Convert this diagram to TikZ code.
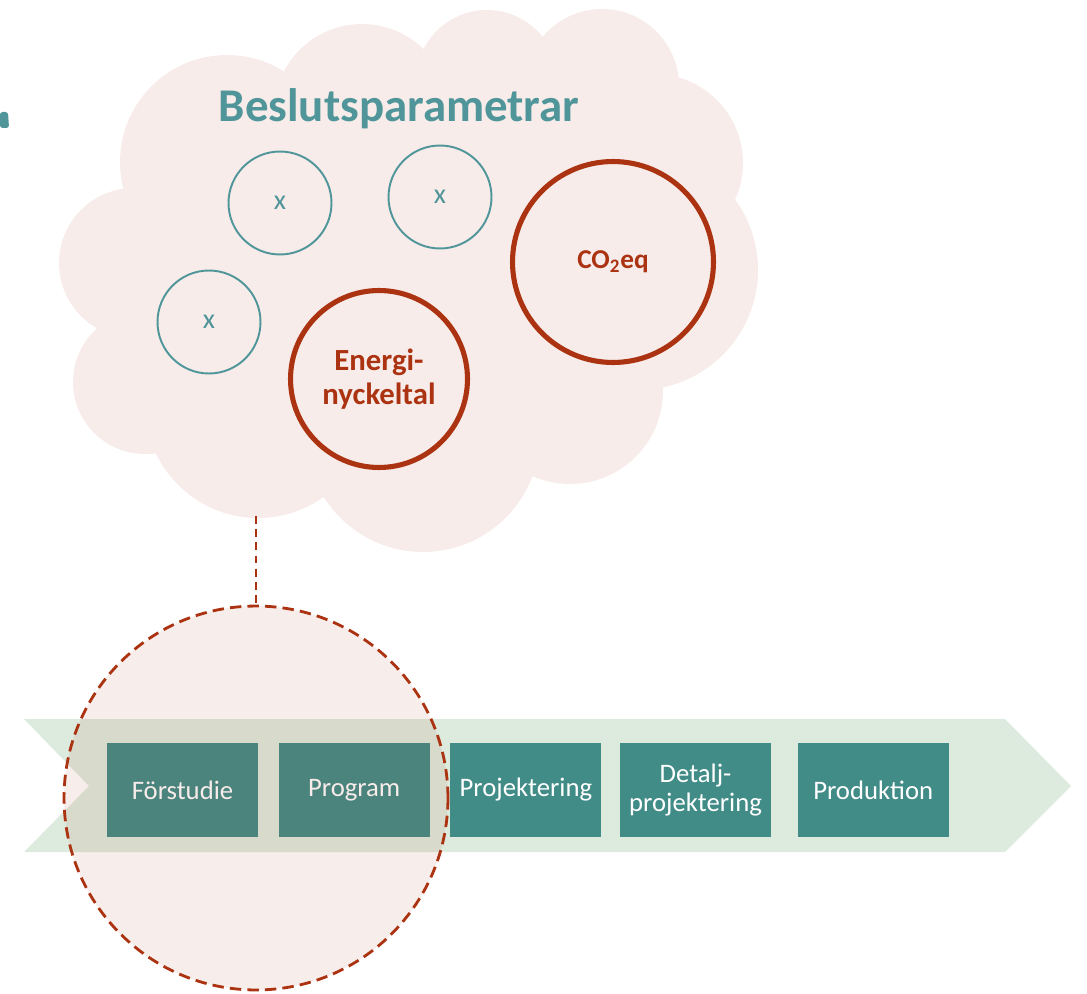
\documentclass[tikz,border=0pt]{standalone}
\usepackage{fontspec}
\setmainfont{Carlito}
\usetikzlibrary{positioning}

\definecolor{cloudpink}{HTML}{F7ECE9}
\definecolor{bandgreen}{HTML}{DDEBDF}
\definecolor{tealbox}{HTML}{428C88}
\definecolor{tealline}{HTML}{4F9599}
\definecolor{rustred}{HTML}{AB3311}

\tikzset{
	param/.style={circle, draw=tealline, line width=1.1pt, minimum size=2.06cm, inner sep=0pt,
		text=tealline, font=\fontsize{16}{18}\selectfont},
	keyparam/.style={circle, draw=rustred, line width=2.9pt, inner sep=0pt, align=center,
		text=rustred, font=\bfseries\fontsize{15.5}{17.6}\selectfont},
	phase/.style={fill=tealbox, text=white, minimum width=3.02cm, minimum height=1.88cm,
		inner sep=0pt, align=center, font=\fontsize{15.2}{17}\selectfont},
}

\begin{document}
\begin{tikzpicture}[x=0.02cm,y=-0.02cm]

\useasboundingbox (0,0) rectangle (1087,993);

\begin{scope}
	% lobes of the cloud
	\coordinate (l0) at (227,162);
	\coordinate (l1) at (362,112);
	\coordinate (l2) at (487,81);
	\coordinate (l3) at (602,86);
	\coordinate (l4) at (654,163);
	\coordinate (l5) at (638,270);
	\coordinate (l6) at (570,391);
	\coordinate (l7) at (423,435);
	\coordinate (l8) at (258,405);
	\coordinate (l9) at (145,382);
	\coordinate (l10) at (134,263);
	%
	\coordinate (cbottom) at (256,516);
\end{scope}

\fill[cloudpink]
	(l0) circle (2.14cm) (l1) circle (1.76cm) (l2) circle (1.42cm)
	(l3) circle (1.54cm) (l4) circle (1.78cm) (l5) circle (2.40cm)
	(l6) circle (1.86cm) (l7) circle (2.34cm) (l8) circle (2.26cm)
	(l9) circle (1.44cm) (l10) circle (1.50cm);
\fill[cloudpink] (l0) -- (l1) -- (l2) -- (l3) -- (l4) -- (l5) -- (l6) -- (l7) -- (l8) -- (l9) -- (l10) -- cycle;

\fill[tealline, rounded corners=1.5] (0,128) -- (0,112) -- (8,112) -- (9,128) -- cycle;

\node[anchor=base, text=tealline, font=\bfseries\fontsize{26.7}{30}\selectfont] (title) at (399,122) {Beslutsparametrar};

\node[param] (p1) at (280,203) {x};
\node[param] (p2) at (440,197) {x};
\node[param] (p3) at (209,322) {x};
\node[keyparam, minimum size=3.54cm, font=\bfseries\fontsize{17.5}{19}\selectfont] (energy) at (379,379) {Energi-\\nyckeltal};
\node[keyparam, minimum size=4.02cm] (co2) at (613,262) {CO\textsubscript{2}eq};

% process arrow
\fill[bandgreen] (24,719) -- (1005,719) -- (1071,786) -- (1005,852) -- (24,852) -- (89,786) -- cycle;

\node[phase] (fs) at (182.5,790) {Förstudie};
\node[phase, right=0.4cm of fs] (prog) {Program};
\node[phase, right=0.4cm of prog] (proj) {Projektering};
\node[phase, right=0.36cm of proj] (detalj) {Detalj-\\projektering};
\node[phase, right=0.52cm of detalj] (prod) {Produktion};

\node[circle, minimum size=7.68cm, inner sep=0pt, draw=rustred, fill=rustred, fill opacity=0.09,
	line width=1.6pt, dash pattern=on 6.5pt off 3.5pt] (focus) at (256,798) {};

\draw[rustred, line width=0.9pt, dash pattern=on 4.5pt off 3pt] (cbottom) -- (focus.north);

\end{tikzpicture}
\end{document}
